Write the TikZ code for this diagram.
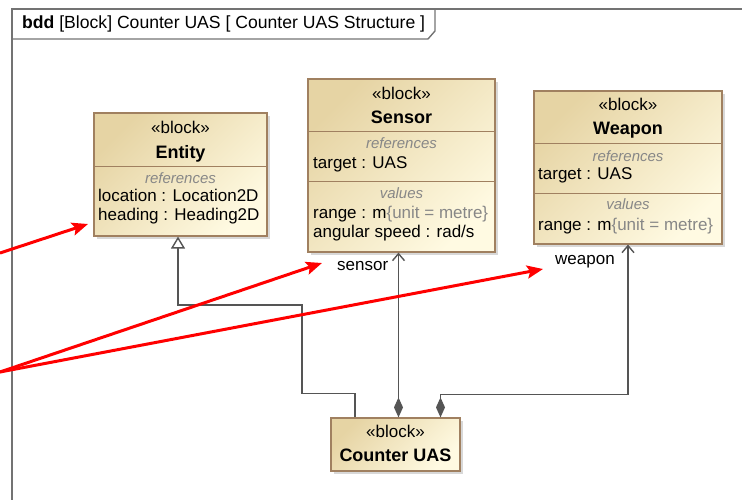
\documentclass[tikz,border=0pt]{standalone}
\usepackage{fontspec}
\setmainfont{Liberation Sans}
\usetikzlibrary{arrows.meta,shadows}

\definecolor{blkdark}{RGB}{230,212,164}
\definecolor{blklight}{RGB}{255,250,226}
\definecolor{blkline}{RGB}{160,128,96}
\definecolor{conline}{RGB}{85,85,85}
\definecolor{frameline}{RGB}{115,115,115}
\definecolor{hint}{RGB}{135,135,135}

\begin{document}
\begin{tikzpicture}[x=1pt,y=-1pt]

\tikzset{
    blk/.style={draw=blkline, line width=1.2pt, top color=blkdark, bottom color=blklight,
        shading angle=45, inner sep=0pt,
        drop shadow={shadow xshift=3pt, shadow yshift=-3pt, fill=black!30}},
    sep/.style={draw=blkline, line width=1.2pt},
    stereo/.style={anchor=base, inner sep=0pt, font=\fontsize{17}{19}\selectfont},
    bname/.style={anchor=base, inner sep=0pt, font=\fontsize{18}{20}\selectfont\bfseries},
    ctitle/.style={anchor=base, inner sep=0pt, text=hint, font=\fontsize{15}{17}\selectfont\itshape},
    prop/.style={anchor=base west, inner sep=0pt, font=\fontsize{17}{19}\selectfont},
    role/.style={anchor=base west, inner sep=0pt, font=\fontsize{17}{19}\selectfont},
    frame/.style={draw=frameline, line width=1.4pt},
    conn/.style={draw=conline, line width=1.4pt},
    gen/.style={conn, -{Triangle[open, length=12pt, width=14pt, fill=white]}},
    comp/.style={conn, {Diamond[length=20pt, width=9pt]}-{Straight Barb[length=7pt, width=12pt]}},
    note/.style={draw=red, line width=3pt, -{Stealth[length=16pt, width=13pt, inset=3pt]}}
}

\useasboundingbox (0,0) rectangle (742,500);

% diagram frame
\draw[frame] (742,9) -| (12,500);
\draw[frame] (12,39) -- (428,39) -- (435,31) -- (435,9);
\node[anchor=base west, inner sep=0pt, font=\fontsize{17.6}{19}\selectfont] (title) at (22,28.3)
    {\textbf{bdd} [Block] Counter UAS [ Counter UAS Structure ]};

% blocks
\node[blk, minimum width=173pt, minimum height=123pt] (entity) at (180.5,174.5) {};
\node[stereo] (entitys) at (180.5,133.3) {«block»};
\node[bname] (entityn) at (180.5,158.3) {Entity};
\draw[sep] ([yshift=-54pt]entity.north west) -- ([yshift=-54pt]entity.north east);
\node[ctitle] (entityr) at (180.5,183.3) {references};
\node[prop] (entityloc) at (98,201.7) {location : Location2D};
\node[prop] (entityhdg) at (98,220) {heading : Heading2D};

\node[blk, minimum width=187pt, minimum height=173pt] (sensor) at (401.5,165.5) {};
\node[stereo] (sensors) at (401.5,100) {«block»};
\node[bname] (sensorn) at (401.5,123.3) {Sensor};
\draw[sep] ([yshift=-53pt]sensor.north west) -- ([yshift=-53pt]sensor.north east);
\node[ctitle] (sensorr) at (401.5,149) {references};
\node[prop] (sensortgt) at (313,169) {target : UAS};
\draw[sep] ([yshift=-103pt]sensor.north west) -- ([yshift=-103pt]sensor.north east);
\node[ctitle] (sensorv) at (401.5,199) {values};
\node[prop] (sensorrng) at (313,218.3) {range : m\textcolor{hint}{\{unit = metre\}}};
\node[prop] (sensorang) at (313,237.3) {angular speed : rad/s};

\node[blk, minimum width=188pt, minimum height=153pt] (weapon) at (628,167.5) {};
\node[stereo] (weapons) at (628,111) {«block»};
\node[bname] (weaponn) at (628,134.3) {Weapon};
\draw[sep] ([yshift=-53pt]weapon.north west) -- ([yshift=-53pt]weapon.north east);
\node[ctitle] (weaponr) at (628,161) {references};
\node[prop] (weapontgt) at (538,180) {target : UAS};
\draw[sep] ([yshift=-103pt]weapon.north west) -- ([yshift=-103pt]weapon.north east);
\node[ctitle] (weaponv) at (628,210) {values};
\node[prop] (weaponrng) at (538,230) {range : m\textcolor{hint}{\{unit = metre\}}};

\node[blk, minimum width=129pt, minimum height=53pt] (cuas) at (395.5,444.5) {};
\node[stereo] (cuass) at (395.5,437.3) {«block»};
\node[bname] (cuasn) at (395.5,461.7) {Counter UAS};

% relationships
\draw[gen] ([xshift=-40.5pt]cuas.north) -- ++(0,-24) -| (302,305) -| ([xshift=-2.5pt]entity.south);
\draw[comp] ([xshift=3pt]cuas.north) -- ([xshift=3pt]cuas.north |- sensor.south);
\draw[comp] ([xshift=45pt]cuas.north) -- ++(0,-23) -| (weapon.south);
\node[role] (sensorrole) at (337,270.7) {sensor};
\node[role] (weaponrole) at (555,264) {weapon};

% annotation arrows
\coordinate (n1) at (0,253);
\coordinate (n2) at (0,372);
\coordinate (t1) at (88,224);
\coordinate (t2) at (322,263);
\coordinate (t3) at (543,269);
\draw[note] (n1) -- (t1);
\draw[note] (n2) -- (t2);
\draw[note] (n2) -- (t3);

\end{tikzpicture}
\end{document}
